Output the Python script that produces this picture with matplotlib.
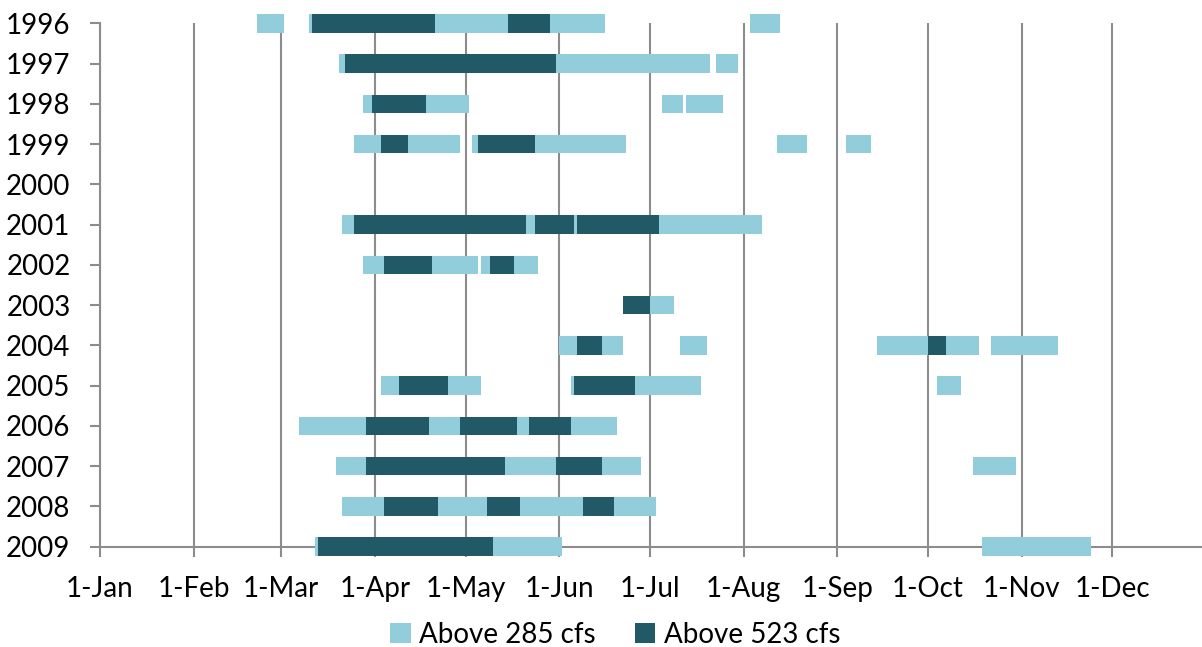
import matplotlib
matplotlib.use("Agg")
import matplotlib.pyplot as plt
import matplotlib.dates as mdates
from matplotlib.patches import Patch
import numpy as np

plt.rcParams["font.family"] = ["Lato", "DejaVu Sans"]

# Water years shown, top to bottom
years = [1996, 1997, 1998, 1999, 2000, 2001, 2002,
         2003, 2004, 2005, 2006, 2007, 2008, 2009]

# Periods (month-day start, month-day end) with flow above 285 cfs
above_285 = [
    [("02-22", "03-02"), ("03-10", "06-16"), ("08-03", "08-13")],                      # 1996
    [("03-20", "07-21"), ("07-23", "07-30")],                                            # 1997
    [("03-28", "05-02"), ("07-05", "07-12"), ("07-13", "07-25")],                      # 1998
    [("03-25", "04-29"), ("05-03", "06-23"), ("08-12", "08-22"), ("09-04", "09-12")],  # 1999
    [],                                                                                  # 2000
    [("03-21", "08-07")],                                                                # 2001
    [("03-28", "05-05"), ("05-06", "05-25")],                                            # 2002
    [("06-22", "07-09")],                                                                # 2003
    [("06-01", "06-22"), ("07-11", "07-20"), ("09-14", "10-18"), ("10-22", "11-13")],  # 2004
    [("04-03", "05-06"), ("06-05", "07-18"), ("10-04", "10-12")],                      # 2005
    [("03-07", "06-20")],                                                                # 2006
    [("03-19", "06-28"), ("10-16", "10-30")],                                            # 2007
    [("03-21", "07-03")],                                                                # 2008
    [("03-12", "06-02"), ("10-19", "11-24")],                                            # 2009
]

# Periods with flow above 523 cfs
above_523 = [
    [("03-11", "04-21"), ("05-15", "05-29")],                      # 1996
    [("03-22", "05-31")],                                          # 1997
    [("03-31", "04-18")],                                          # 1998
    [("04-03", "04-12"), ("05-05", "05-24")],                      # 1999
    [],                                                            # 2000
    [("03-25", "05-21"), ("05-24", "06-06"), ("06-07", "07-04")],  # 2001
    [("04-04", "04-20"), ("05-09", "05-17")],                      # 2002
    [("06-22", "07-01")],                                          # 2003
    [("06-07", "06-15"), ("10-01", "10-07")],                      # 2004
    [("04-09", "04-25"), ("06-06", "06-26")],                      # 2005
    [("03-29", "04-19"), ("04-29", "05-18"), ("05-22", "06-05")],  # 2006
    [("03-29", "05-14"), ("05-31", "06-15")],                      # 2007
    [("04-04", "04-22"), ("05-08", "05-19"), ("06-09", "06-19")],  # 2008
    [("03-13", "05-10")],                                          # 2009
]

month_labels = ["1-Jan", "1-Feb", "1-Mar", "1-Apr", "1-May", "1-Jun",
                "1-Jul", "1-Aug", "1-Sep", "1-Oct", "1-Nov", "1-Dec"]
series_labels = ["Above 285 cfs", "Above 523 cfs"]

LIGHT = "#92CDDC"
DARK = "#215967"
GRAY = "#8C8C8C"
REF_YEAR = 2000  # leap year used as a common calendar


def day_num(md):
    return mdates.date2num(np.datetime64(f"{REF_YEAR}-{md}"))


W, H = 1202, 647
fig = plt.figure(figsize=(W / 100, H / 100), dpi=100)
ax = fig.add_axes([100 / W, (H - 546.7) / H, 1106 / W, 523.4 / H])

bar_h = 0.46
for series, color in ((above_285, LIGHT), (above_523, DARK)):
    for i, spans in enumerate(series):
        if not spans:
            continue
        segs = [(day_num(a), day_num(b) - day_num(a)) for a, b in spans]
        ax.broken_barh(segs, (i - bar_h / 2, bar_h), facecolors=color,
                       linewidth=0, zorder=3, clip_on=False)

ax.set_ylim(len(years) - 1, 0)
ax.set_yticks(range(len(years)), [str(y) for y in years])

month_ticks = [day_num(f"{m:02d}-01") for m in range(1, 13)]
ax.set_xlim(day_num("01-01"), mdates.date2num(np.datetime64(f"{REF_YEAR + 1}-01-01")))
ax.set_xticks(month_ticks, month_labels)

ax.grid(axis="x", color=GRAY, linewidth=1.5)
ax.set_axisbelow(True)
for side in ("top", "right"):
    ax.spines[side].set_visible(False)
for side in ("left", "bottom"):
    ax.spines[side].set_color(GRAY)
    ax.spines[side].set_linewidth(1.5)
    ax.spines[side].set_zorder(1)

ax.tick_params(axis="both", direction="out", length=7.2, width=1.5,
               color=GRAY, labelsize=20, labelcolor="black")
ax.tick_params(axis="y", pad=14)
ax.tick_params(axis="x", pad=14)

handles = [Patch(facecolor=LIGHT, edgecolor="none"),
           Patch(facecolor=DARK, edgecolor="none")]
fig.legend(handles, series_labels, loc="center",
           bbox_to_anchor=(615 / W, 12 / H), ncol=2, frameon=False,
           fontsize=20, handlelength=0.75, handleheight=0.75,
           handletextpad=0.3, columnspacing=1.4, borderpad=0)

fig.savefig("out.png", dpi=100)
